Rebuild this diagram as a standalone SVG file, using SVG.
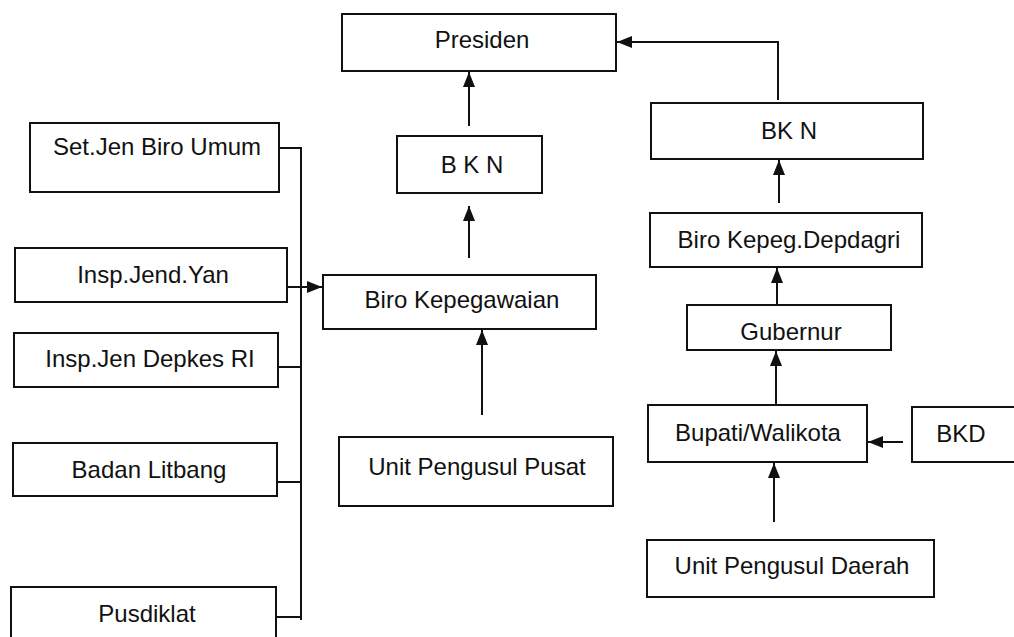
<svg xmlns="http://www.w3.org/2000/svg" width="1014" height="637" viewBox="0 0 1014 637">
<style>
.box{fill:#fff;stroke:#111;stroke-width:2}
.t{font-family:"Liberation Sans",Arial,sans-serif;font-size:24px;fill:#111;text-anchor:middle}
.c{fill:none;stroke:#111;stroke-width:2}
</style>
<defs>
<marker id="ah" markerUnits="userSpaceOnUse" markerWidth="16" markerHeight="14" refX="15" refY="7" orient="auto">
<path d="M0,1 L15,7 L0,13 Z" fill="#111"/>
</marker>
</defs>
<rect width="1014" height="637" fill="#fff"/>
<g id="connectors">
<polyline class="c" points="279,148 301,148 301,620"/>
<line class="c" x1="287" y1="287" x2="322" y2="287" marker-end="url(#ah)"/>
<line class="c" x1="278" y1="367" x2="301" y2="367"/>
<line class="c" x1="277" y1="482" x2="301" y2="482"/>
<line class="c" x1="276" y1="617" x2="301" y2="617"/>
<line class="c" x1="482" y1="415" x2="482" y2="330" marker-end="url(#ah)"/>
<line class="c" x1="469" y1="258" x2="469" y2="206" marker-end="url(#ah)"/>
<line class="c" x1="469" y1="126" x2="469" y2="72" marker-end="url(#ah)"/>
<polyline class="c" points="778,100 778,42 617,42" marker-end="url(#ah)"/>
<line class="c" x1="779" y1="203" x2="779" y2="160" marker-end="url(#ah)"/>
<line class="c" x1="777" y1="305" x2="777" y2="268" marker-end="url(#ah)"/>
<line class="c" x1="776" y1="405" x2="776" y2="351" marker-end="url(#ah)"/>
<line class="c" x1="903" y1="442" x2="868" y2="442" marker-end="url(#ah)"/>
<line class="c" x1="774" y1="522" x2="774" y2="463" marker-end="url(#ah)"/>
</g>
<g id="presiden"><rect class="box" x="342" y="14" width="274" height="57"/><text class="t" x="482" y="48">Presiden</text></g>
<g id="bkn-pusat"><rect class="box" x="397" y="136" width="145" height="57"/><text class="t" x="472" y="173">B K N</text></g>
<g id="setjen"><rect class="box" x="30" y="123" width="249" height="69"/><text class="t" x="157" y="155">Set.Jen Biro Umum</text></g>
<g id="inspjendyan"><rect class="box" x="15" y="248" width="272" height="54"/><text class="t" x="153" y="283">Insp.Jend.Yan</text></g>
<g id="inspjendepkes"><rect class="box" x="14" y="333" width="264" height="54"/><text class="t" x="150" y="367">Insp.Jen Depkes RI</text></g>
<g id="badanlitbang"><rect class="box" x="13" y="443" width="264" height="53"/><text class="t" x="149" y="478">Badan Litbang</text></g>
<g id="pusdiklat"><rect class="box" x="11" y="587" width="265" height="60"/><text class="t" x="147" y="622">Pusdiklat</text></g>
<g id="birokepegawaian"><rect class="box" x="323" y="275" width="273" height="54"/><text class="t" x="462" y="308">Biro Kepegawaian</text></g>
<g id="unitpusat"><rect class="box" x="339" y="437" width="274" height="69"/><text class="t" x="477" y="475">Unit Pengusul Pusat</text></g>
<g id="bkn-daerah"><rect class="box" x="651" y="103" width="272" height="56"/><text class="t" x="789" y="139">BK N</text></g>
<g id="birodepdagri"><rect class="box" x="650" y="213" width="272" height="54"/><text class="t" x="789" y="248">Biro Kepeg.Depdagri</text></g>
<g id="gubernur"><rect class="box" x="687" y="305" width="204" height="45"/><text class="t" x="791" y="340">Gubernur</text></g>
<g id="bupati"><rect class="box" x="648" y="405" width="219" height="57"/><text class="t" x="758" y="441">Bupati/Walikota</text></g>
<g id="bkd"><rect class="box" x="912" y="407" width="110" height="55"/><text class="t" x="961" y="442">BKD</text></g>
<g id="unitdaerah"><rect class="box" x="647" y="540" width="287" height="57"/><text class="t" x="792" y="574">Unit Pengusul Daerah</text></g>
</svg>
